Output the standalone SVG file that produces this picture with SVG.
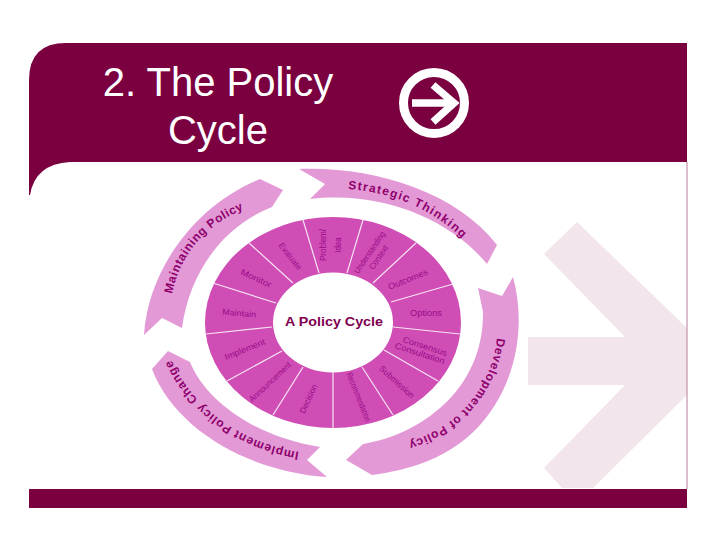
<svg xmlns="http://www.w3.org/2000/svg" width="720" height="540" viewBox="0 0 720 540">
<style>
text{font-family:"Liberation Sans",Arial,sans-serif}
.title{font-size:40px;fill:#fff;text-anchor:middle}
.band{fill:#e399d5}
.bt{font-size:12px;font-weight:bold;fill:#8e006c}
.lab{font-size:8.5px;fill:#990a88;text-anchor:middle}
.sp{stroke:#f6e4f2;stroke-width:1.2;fill:none}
</style>
<defs>
<path id="p1" d="M348,189 C390,192 432,207 468,244"/>
<path id="p2" d="M172,294 C180,255 205,223 250,207"/>
<path id="p3" d="M299,452 C250,444 195,415 170,357"/>
<path id="p4" d="M497,338 C493,378 466,426 405,443"/>
</defs>
<rect width="720" height="540" fill="#fff"/>
<g id="frame">
<rect x="29" y="43" width="658" height="465" fill="#fff"/>
<polygon points="577,222 687,328 687,395 593,488 562,488 544,468 625,385 528,385 528,337 625,337 544,254" fill="#f2e6ec"/>
<path d="M29,195 L29,80 Q29,43 66,43 L687,43 L687,162 L70,162 Q35,164 30,195 Z" fill="#7a0040"/>
<rect x="29" y="489" width="658" height="19" fill="#7a0040"/>
<path d="M687,162 V489" stroke="#b87d9c" stroke-width="1" fill="none"/>
</g>
<g id="title">
<text class="title" x="218" y="96">2. The Policy</text>
<text class="title" x="218" y="144">Cycle</text>
</g>
<g id="arrow-icon" fill="none" stroke="#fff">
<circle cx="434" cy="103" r="30.5" stroke-width="9"/>
<path d="M412,103 H454" stroke-width="7.5"/>
<path d="M433,85 L454,103 L433,122" stroke-width="7.5"/>
</g>
<g id="band-strategic">
<path class="band" d="M299,169 C370,166 455,190 497,245 L487,264 C455,225 390,190 310,199 L325,184 Z"/>
<text class="bt" letter-spacing="1.3"><textPath href="#p1">Strategic Thinking</textPath></text>
</g>
<g id="band-maintaining">
<path class="band" d="M144,335 C148,270 195,205 260,179 L283,190 L272,207 C225,225 190,270 182,328 L162,318 Z"/>
<text class="bt" letter-spacing="0.6"><textPath href="#p2">Maintaining Policy</textPath></text>
</g>
<g id="band-implement">
<path class="band" d="M168,351 L190,362 C205,400 255,437 320,447 L307,460 L327,477 C250,472 175,430 152,369 Z"/>
<text class="bt" letter-spacing="0.8"><textPath href="#p3">Implement Policy Change</textPath></text>
</g>
<g id="band-development">
<path class="band" d="M513,277 C525,320 520,380 480,425 C450,458 410,470 372,475 L346,460 L363,444 C420,435 484,390 483,312 L478,288 L502,296 Z"/>
<text class="bt" letter-spacing="0.8"><textPath href="#p4">Development of Policy</textPath></text>
</g>
<g id="wheel">
<ellipse cx="333" cy="322.5" rx="128" ry="105.5" fill="#cf4db5"/>
<ellipse cx="333" cy="322.5" rx="60" ry="50" fill="#fff"/>
</g>
<g id="connectors">
<path class="sp" d="M303,220 L319,273"/>
<path class="sp" d="M249,243 L293,283"/>
<path class="sp" d="M213,283 L276,303"/>
<path class="sp" d="M206,334 L272,327"/>
<path class="sp" d="M227,381 L282,351"/>
<path class="sp" d="M273,415 L303,367"/>
<path class="sp" d="M333,428 L333,372"/>
<path class="sp" d="M362,367 L393,415"/>
<path class="sp" d="M384,350 L438,381"/>
<path class="sp" d="M393,327 L460,334"/>
<path class="sp" d="M391,302 L453,284"/>
<path class="sp" d="M373,283 L416,243"/>
<path class="sp" d="M347,273 L363,220"/>
</g>
<g id="center"><text x="334" y="326" font-size="12" font-weight="bold" fill="#7f0050" text-anchor="middle" textLength="98" lengthAdjust="spacingAndGlyphs">A Policy Cycle</text></g>
<g id="s-problem">
<text class="lab" transform="translate(326,245) rotate(-90)" textLength="32" lengthAdjust="spacingAndGlyphs">Problem/</text>
<text class="lab" transform="translate(341,245) rotate(-90)" textLength="15" lengthAdjust="spacingAndGlyphs">Idea</text>
</g>
<g id="s-context">
<text class="lab" transform="translate(372,254) rotate(-56)" textLength="49" lengthAdjust="spacingAndGlyphs">Understanding</text>
<text class="lab" transform="translate(381,259) rotate(-56)" textLength="27" lengthAdjust="spacingAndGlyphs">Context</text>
</g>
<g id="s-outcomes"><text class="lab" transform="translate(409,282) rotate(-22)" textLength="42" lengthAdjust="spacingAndGlyphs">Outcomes</text></g>
<g id="s-options"><text class="lab" transform="translate(426,316)" textLength="32" lengthAdjust="spacingAndGlyphs">Options</text></g>
<g id="s-consensus">
<text class="lab" transform="translate(424,349) rotate(18)" textLength="46" lengthAdjust="spacingAndGlyphs">Consensus</text>
<text class="lab" transform="translate(419,356) rotate(18)" textLength="52" lengthAdjust="spacingAndGlyphs">Consultation</text>
</g>
<g id="s-submission"><text class="lab" transform="translate(395,384) rotate(42)" textLength="44" lengthAdjust="spacingAndGlyphs">Submission</text></g>
<g id="s-recommend"><text class="lab" transform="translate(356,398) rotate(68)" textLength="52" lengthAdjust="spacingAndGlyphs">Recommendation</text></g>
<g id="s-decision"><text class="lab" transform="translate(311,400) rotate(-65)" textLength="31" lengthAdjust="spacingAndGlyphs">Decision</text></g>
<g id="s-announce"><text class="lab" transform="translate(272,384) rotate(-43)" textLength="54" lengthAdjust="spacingAndGlyphs">Announcement</text></g>
<g id="s-implement"><text class="lab" transform="translate(246,352) rotate(-22)" textLength="43" lengthAdjust="spacingAndGlyphs">Implement</text></g>
<g id="s-maintain"><text class="lab" transform="translate(239,316) rotate(5)" textLength="34" lengthAdjust="spacingAndGlyphs">Maintain</text></g>
<g id="s-monitor"><text class="lab" transform="translate(255,281) rotate(25)" textLength="33" lengthAdjust="spacingAndGlyphs">Monitor</text></g>
<g id="s-evaluate"><text class="lab" transform="translate(288,258) rotate(52)" textLength="32" lengthAdjust="spacingAndGlyphs">Evaluate</text></g>
</svg>
